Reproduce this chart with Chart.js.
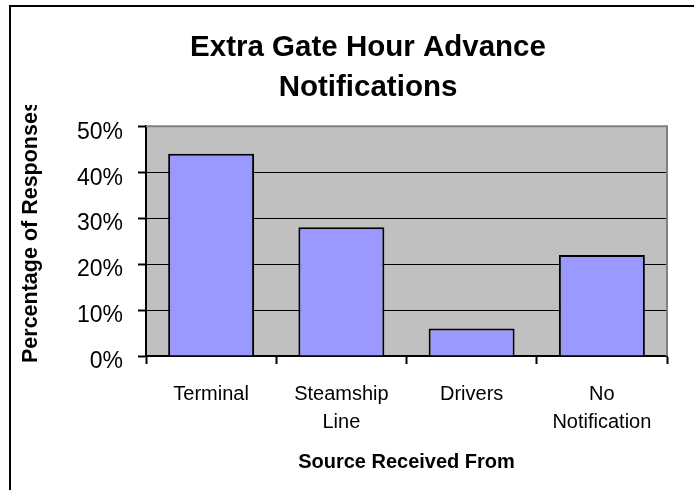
<!DOCTYPE html>
<html>
<head>
<meta charset="utf-8">
<script src="https://cdn.jsdelivr.net/npm/chart.js@4/dist/chart.umd.min.js"></script>
<style>
  body { margin: 0; background: #ffffff; }
  canvas { display: block; }
</style>
</head>
<body>
<canvas id="grafico" width="694" height="490"></canvas>
<script>
// dados
const categorias = ['Terminal', ['Steamship', 'Line'], 'Drivers', ['No', 'Notification']];
const percentuais = [0.44, 0.28, 0.06, 0.22];
const titulo = ['Extra Gate Hour Advance', 'Notifications'];
const tituloY = 'Percentage of Responses';
const tituloX = 'Source Received From';

const fonte = '"Liberation Sans", Arial, sans-serif';

// fundo cinza da área do gráfico, moldura e título do eixo Y
const decoracao = {
    id: 'decoracao',
    beforeDraw(chart) {
        const ctx = chart.ctx;
        const a = chart.chartArea;
        ctx.save();
        ctx.fillStyle = '#ffffff';
        ctx.fillRect(0, 0, chart.width, chart.height);
        ctx.fillStyle = '#c0c0c0';
        ctx.fillRect(a.left, a.top, a.right - a.left, a.bottom - a.top);
        // moldura externa (só esquerda e topo aparecem)
        ctx.strokeStyle = '#000000';
        ctx.lineWidth = 2;
        ctx.beginPath();
        ctx.moveTo(10, chart.height);
        ctx.lineTo(10, 6);
        ctx.lineTo(chart.width, 6);
        ctx.stroke();
        ctx.restore();
    },
    afterDraw(chart) {
        const ctx = chart.ctx;
        const a = chart.chartArea;
        ctx.save();
        // borda cinza em cima e à direita
        ctx.strokeStyle = '#808080';
        ctx.lineWidth = 2;
        ctx.beginPath();
        ctx.moveTo(a.left, a.top);
        ctx.lineTo(a.right, a.top);
        ctx.lineTo(a.right, a.bottom);
        ctx.stroke();
        // título do eixo Y, cortado no topo como no original
        ctx.beginPath();
        ctx.rect(0, 105, 60, chart.height);
        ctx.clip();
        ctx.translate(31, a.bottom + 7);
        ctx.rotate(-Math.PI / 2);
        ctx.fillStyle = '#000000';
        ctx.font = 'bold 21.5px ' + fonte;
        ctx.textAlign = 'left';
        ctx.textBaseline = 'middle';
        ctx.fillText(tituloY, 0, 0);
        ctx.restore();
    }
};

const ctx = document.getElementById('grafico').getContext('2d');

new Chart(ctx, {
    type: 'bar',
    data: {
        labels: categorias,
        datasets: [{
            data: percentuais,
            backgroundColor: '#9999ff',
            borderColor: '#000000',
            borderWidth: 2,
            borderSkipped: 'bottom',
            categoryPercentage: 1,
            barPercentage: 0.66
        }]
    },
    options: {
        responsive: false,
        animation: false,
        devicePixelRatio: 1,
        layout: { padding: { left: 69, right: 27, top: 0, bottom: 0 } },
        plugins: {
            legend: { display: false },
            tooltip: { enabled: false },
            title: {
                display: true,
                text: titulo,
                color: '#000000',
                font: { family: fonte, size: 29.5, weight: 'bold', lineHeight: 1.36 },
                padding: { top: 28, bottom: 18 }
            }
        },
        scales: {
            x: {
                offset: true,
                afterFit(scale) { scale.height = 134; },
                grid: {
                    offset: true,
                    drawOnChartArea: false,
                    drawTicks: true,
                    tickLength: 8,
                    tickWidth: 2,
                    tickColor: '#000000'
                },
                border: { color: '#000000', width: 2 },
                ticks: {
                    color: '#000000',
                    padding: 16,
                    maxRotation: 0,
                    autoSkip: false,
                    font: { family: fonte, size: 20, lineHeight: 1.4 }
                },
                title: {
                    display: true,
                    text: tituloX,
                    color: '#000000',
                    font: { family: fonte, size: 20, weight: 'bold', lineHeight: 1.2 },
                    padding: { top: 0, bottom: 16 }
                }
            },
            y: {
                min: 0,
                max: 0.5,
                afterFit(scale) { scale.width = 77; },
                grid: {
                    color: '#000000',
                    lineWidth: 1,
                    drawTicks: true,
                    tickLength: 8,
                    tickWidth: 2,
                    tickColor: '#000000'
                },
                border: { color: '#000000', width: 2 },
                ticks: {
                    stepSize: 0.1,
                    color: '#000000',
                    padding: 15,
                    labelOffset: 6,
                    font: { family: fonte, size: 23 },
                    callback: (v) => Math.round(v * 100) + '%'
                }
            }
        }
    },
    plugins: [decoracao]
});
</script>
</body>
</html>
